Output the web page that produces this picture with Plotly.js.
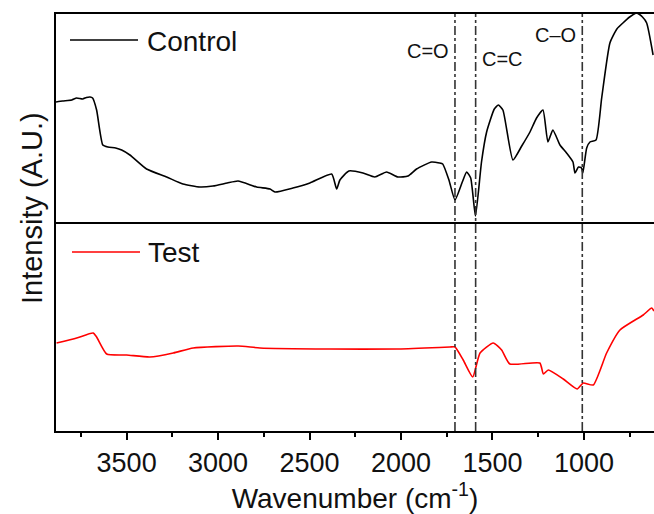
<!DOCTYPE html>
<html>
<head>
<meta charset="utf-8">
<script src="https://cdn.plot.ly/plotly-3.0.1.min.js"></script>
<style>html,body{margin:0;padding:0;background:#fff;}#chart{width:654px;height:514px;}</style>
</head>
<body>
<div id="chart"></div>
<script>
// Control spectrum (top panel)
const controlWavenumber = [3886, 3850, 3800, 3773, 3740, 3720, 3700, 3686, 3664, 3630, 3602, 3560, 3527, 3482, 3391, 3281, 3192, 3099, 3028, 2950, 2891, 2789, 2716, 2689, 2591, 2498, 2379, 2352, 2334, 2285, 2208, 2143, 2079, 2017, 1962, 1915, 1833, 1790, 1772, 1738, 1705, 1665, 1641, 1619, 1593, 1560, 1532, 1490, 1468, 1443, 1388, 1340, 1295, 1259, 1224, 1197, 1170, 1131, 1095, 1060, 1049, 1030, 1013, 1006, 985, 967, 934, 903, 858, 820, 787, 750, 712, 680, 657, 622];
const controlIntensity = [120, 121, 122, 124, 123, 124.5, 125, 124, 112, 77, 75, 74, 72, 67, 53, 45, 38, 35, 36, 39, 41, 35, 33, 30, 34, 39, 48, 33, 42, 51, 49, 45, 50, 45, 46, 53, 60, 59, 58, 42, 22, 40, 50, 44, 6, 60, 90, 113, 117, 112, 62, 76, 90, 104, 112, 80, 92, 77, 69, 60, 49, 55, 54, 49, 74, 80, 82, 124, 179, 193, 199, 205, 209, 205, 199, 167];

// Test spectrum (bottom panel)
const testWavenumber = [3883, 3773, 3683, 3664, 3609, 3500, 3373, 3245, 3136, 2890, 2771, 2389, 2024, 1733, 1705, 1660, 1608, 1568, 1496, 1450, 1405, 1241, 1222, 1195, 1113, 1037, 1004, 949, 876, 803, 676, 630, 617];
const testIntensity = [88, 93, 98, 94, 77, 76, 74, 78, 83, 85, 83, 82, 82, 84, 84, 71, 54, 78, 88, 81, 67, 68, 57, 61, 52, 42, 48, 46, 78, 101, 116, 123, 120];

// Band markers
const bandPositions = [1705, 1592, 1009];
const bandLabels = ['C=O', 'C=C', 'C\u2013O'];
const seriesNames = ['Control', 'Test'];

const FONT = '"Liberation Sans", Arial, Helvetica, sans-serif';
const INK = '#111';

const traces = [
  {x: controlWavenumber, y: controlIntensity, name: seriesNames[0], type: 'scatter', mode: 'lines',
   line: {color: '#000000', width: 1.6, shape: 'spline', smoothing: 0.5}, xaxis: 'x2', yaxis: 'y2', showlegend: false},
  {x: testWavenumber, y: testIntensity, name: seriesNames[1], type: 'scatter', mode: 'lines',
   line: {color: '#ff0000', width: 1.6, shape: 'spline', smoothing: 0.5}, xaxis: 'x', yaxis: 'y', showlegend: false}
];

const plotL = 56, plotR = 654, plotT = 14, plotB = 431;
const pw = plotR - plotL, ph = plotB - plotT;
const px = v => (v - plotL) / pw;
const py = v => (plotB - v) / ph;

const shapes = bandPositions.map(w => ({
  type: 'line', xref: 'x', yref: 'paper', x0: w, x1: w, y0: 0, y1: 1,
  line: {color: '#333', width: 1.6, dash: 'dashdot'}
}));
// legend sample lines
shapes.push({type: 'line', xref: 'paper', yref: 'paper', x0: px(70), x1: px(138), y0: py(40), y1: py(40), line: {color: '#000', width: 1.6}});
shapes.push({type: 'line', xref: 'paper', yref: 'paper', x0: px(72), x1: px(140), y0: py(252), y1: py(252), line: {color: '#ff0000', width: 1.6}});

const annotations = [
  {xref: 'paper', yref: 'paper', x: px(145), y: py(41), text: seriesNames[0], showarrow: false, xanchor: 'left', yanchor: 'middle', font: {family: FONT, size: 28, color: INK}},
  {xref: 'paper', yref: 'paper', x: px(146), y: py(252), text: seriesNames[1], showarrow: false, xanchor: 'left', yanchor: 'middle', font: {family: FONT, size: 28, color: INK}},
  {xref: 'x', yref: 'paper', x: bandPositions[0], y: py(51), xshift: -4, text: bandLabels[0], showarrow: false, xanchor: 'right', yanchor: 'middle', font: {family: FONT, size: 20, color: INK}},
  {xref: 'x', yref: 'paper', x: bandPositions[1], y: py(59), xshift: 4, text: bandLabels[1], showarrow: false, xanchor: 'left', yanchor: 'middle', font: {family: FONT, size: 20, color: INK}},
  {xref: 'x', yref: 'paper', x: bandPositions[2], y: py(35), xshift: -4, text: bandLabels[2], showarrow: false, xanchor: 'right', yanchor: 'middle', font: {family: FONT, size: 20, color: INK}},
  {xref: 'paper', yref: 'paper', x: px(32), y: py(208), text: 'Intensity (A.U.)', textangle: -90, showarrow: false, xanchor: 'center', yanchor: 'middle', font: {family: FONT, size: 29, color: INK}}
];

const split = (plotB - 222) / ph;

const layout = {
  width: 654, height: 514,
  margin: {l: plotL, r: 0, t: plotT, b: 514 - plotB},
  paper_bgcolor: '#fff', plot_bgcolor: '#fff',
  showlegend: false,
  xaxis: {
    domain: [0, 1], anchor: 'y', range: [3886, 617], autorange: false,
    showgrid: false, zeroline: false, showline: true, mirror: false, linecolor: '#000', linewidth: 2,
    ticks: 'outside', ticklen: 7, tickwidth: 2, tickcolor: '#000', tick0: 0, dtick: 500,
    minor: {ticks: 'outside', ticklen: 4, tickwidth: 2, tickcolor: '#000', dtick: 250, showgrid: false},
    tickfont: {family: FONT, size: 27, color: INK},
    title: {text: 'Wavenumber (cm<sup>-1</sup>)', font: {family: FONT, size: 28, color: INK}, standoff: 6}
  },
  xaxis2: {
    domain: [0, 1], anchor: 'y2', matches: 'x', range: [3886, 617], autorange: false,
    showgrid: false, zeroline: false, showline: true, mirror: true, linecolor: '#000', linewidth: 2,
    ticks: '', showticklabels: false
  },
  yaxis: {
    domain: [0, split], range: [0, 209], autorange: false, anchor: 'x',
    showgrid: false, zeroline: false, showline: true, mirror: false, linecolor: '#000', linewidth: 2,
    ticks: '', showticklabels: false
  },
  yaxis2: {
    domain: [split, 1], range: [0, 208], autorange: false, anchor: 'x2',
    showgrid: false, zeroline: false, showline: true, mirror: false, linecolor: '#000', linewidth: 2,
    ticks: '', showticklabels: false
  },
  shapes: shapes,
  annotations: annotations
};

Plotly.newPlot('chart', traces, layout, {displayModeBar: false, staticPlot: true});
</script>
</body>
</html>
